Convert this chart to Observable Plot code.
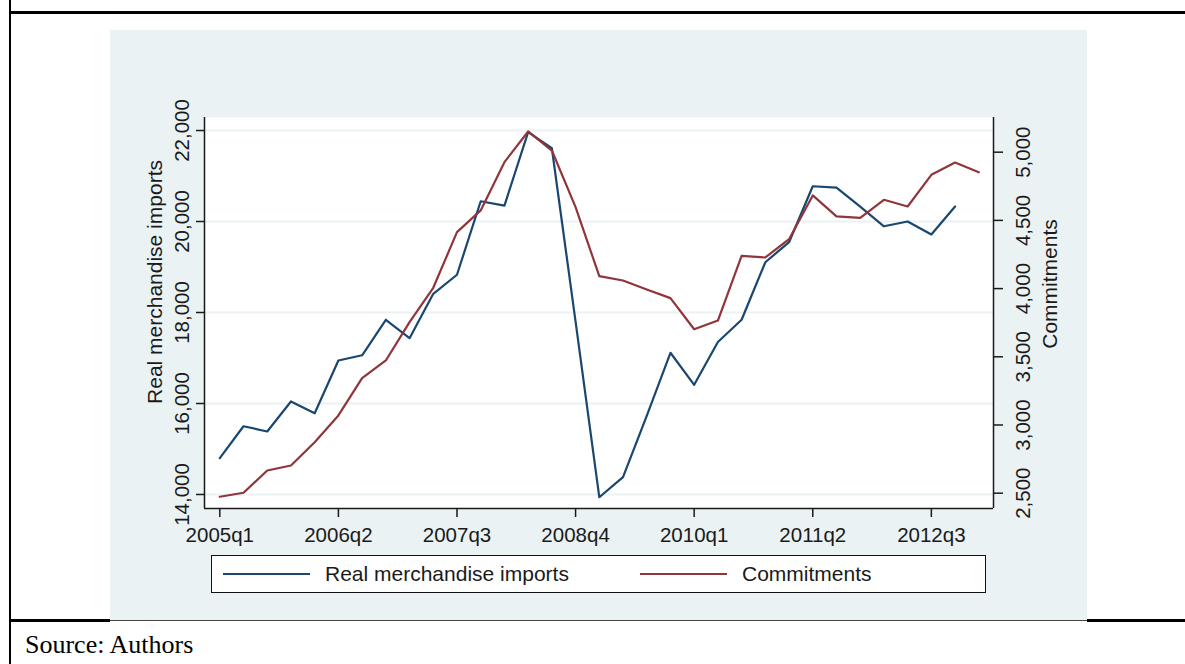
<!DOCTYPE html>
<html>
<head>
<meta charset="utf-8">
<script src="https://cdn.jsdelivr.net/npm/d3@7"></script>
<script src="https://cdn.jsdelivr.net/npm/@observablehq/plot@0.6"></script>
<style>
  body { margin: 0; background: #fff; }
  #page { position: relative; width: 1185px; height: 664px; overflow: hidden; background: #fff;
          font-family: "Liberation Sans", Arial, sans-serif; color: #1a1a1a; }
  .ln { position: absolute; background: #000; }
  #panel { position: absolute; left: 110px; top: 30px; width: 977px; height: 591px; background: #eaf2f3; }
  #chart { position: absolute; left: 110px; top: 30px; }
  #legend { position: absolute; left: 211px; top: 555px; width: 773px; height: 36px;
            border: 1.5px solid #111; background: #fff; }
  .sw { position: absolute; top: 17px; height: 2px; width: 87px; }
  .lt { position: absolute; top: 6px; font-size: 21px; line-height: 24px; white-space: nowrap; color: #1a1a1a; }
  #source { position: absolute; left: 25px; top: 630px; font-family: "Liberation Serif", "Times New Roman", serif;
            font-size: 26px; line-height: 29px; color: #000; }
</style>
</head>
<body>
<div id="page">
  <div id="panel"></div>
  <div id="chart"></div>
  <div id="legend"></div>
  <div class="ln" style="left:10px; top:11px; width:1175px; height:3px;"></div>
  <div class="ln" style="left:9px; top:0px; width:2px; height:664px;"></div>
  <div class="ln" style="left:10px; top:619px; width:100px; height:3px;"></div>
  <div class="ln" style="left:110px; top:620px; width:977px; height:1px; background:#444;"></div>
  <div class="ln" style="left:1087px; top:619px; width:98px; height:3px;"></div>
  <div id="source">Source: Authors</div>
</div>
<script>
// ---- data ----
const quarters = [
  "2005q1","2005q2","2005q3","2005q4","2006q1","2006q2","2006q3","2006q4",
  "2007q1","2007q2","2007q3","2007q4","2008q1","2008q2","2008q3","2008q4",
  "2009q1","2009q2","2009q3","2009q4","2010q1","2010q2","2010q3","2010q4",
  "2011q1","2011q2","2011q3","2011q4","2012q1","2012q2","2012q3","2012q4","2013q1"
];
const imports = [
  14800, 15500, 15385, 16045, 15785, 16945, 17060, 17840, 17435, 18410, 18830,
  20445, 20350, 21965, 21610, 17800, 13940, 14380, 15730, 17115, 16410, 17350,
  17840, 19105, 19545, 20775, 20745, 20325, 19895, 20000, 19715, 20330
];
const commitments = [
  2474, 2503, 2666, 2703, 2874, 3070, 3343, 3473, 3754, 4006, 4414,
  4573, 4927, 5152, 5012, 4597, 4091, 4059, 3993, 3930, 3702, 3766,
  4240, 4228, 4362, 4683, 4529, 4519, 4651, 4602, 4834, 4924, 4853
];
const xTickLabels = ["2005q1","2006q2","2007q3","2008q4","2010q1","2011q2","2012q3"];
const leftTicks = [14000, 16000, 18000, 20000, 22000];
const rightTicks = [2500, 3000, 3500, 4000, 4500, 5000];
const seriesNames = ["Real merchandise imports", "Commitments"];
const seriesColors = ["#1a476f", "#90353b"];
const leftTitle = "Real merchandise imports";
const rightTitle = "Commitments";

// ---- scales ----
const xDomain = [-0.645, 32.62];
const yDomain = [13692, 22286];
// right axis (Commitments) mapped onto the left scale
const toLeft = r => 14028.6 + 2.998 * (r - 2500);
const toRight = l => (l - 14028.6) / 2.998 + 2500;

const impData = imports.map((v, i) => ({t: i, v}));
const comData = commitments.map((v, i) => ({t: i, v}));
const xTickIdx = xTickLabels.map(l => quarters.indexOf(l));
const fmt = d3.format(",");

const chart = Plot.plot({
  width: 977,
  height: 591,
  marginLeft: 94,
  marginRight: 94,
  marginTop: 87,
  marginBottom: 113,
  style: {background: "transparent", fontFamily: "'Liberation Sans', Arial, sans-serif",
          fontSize: "20.5px", color: "#1a1a1a", overflow: "visible"},
  x: {type: "linear", domain: xDomain, label: null},
  y: {domain: yDomain, label: null},
  marks: [
    Plot.frame({fill: "white", stroke: "none"}),
    Plot.gridY(leftTicks, {stroke: "#eaf2f3", strokeOpacity: 1, strokeWidth: 2}),
    Plot.line(impData, {x: "t", y: "v", stroke: seriesColors[0], strokeWidth: 2.2}),
    Plot.line(comData, {x: "t", y: d => toLeft(d.v), stroke: seriesColors[1], strokeWidth: 2.2}),
    Plot.ruleX([xDomain[0], xDomain[1]], {stroke: "#1a1a1a", strokeWidth: 1.5}),
    Plot.ruleY([yDomain[0]], {stroke: "#1a1a1a", strokeWidth: 1.5}),
    Plot.axisX(xTickIdx, {tickSize: 9, tickPadding: 10, tickFormat: i => quarters[i],
                          fontSize: 20.5, strokeWidth: 1.5, label: null}),
    Plot.axisY(leftTicks, {anchor: "left", tickSize: 8, tickPadding: 8, tickRotate: -90,
                           tickFormat: fmt, fontSize: 20.5, strokeWidth: 1.5, label: null}),
    Plot.axisY(rightTicks.map(toLeft), {anchor: "right", tickSize: 9, tickPadding: 13, tickRotate: -90,
                           lineAnchor: "top", tickFormat: d => fmt(Math.round(toRight(d))),
                           fontSize: 20.5, strokeWidth: 1.5, label: null}),
    Plot.text([leftTitle], {frameAnchor: "left", dx: -49, dy: -31, rotate: -90, textAnchor: "middle",
                            lineAnchor: "middle", fontSize: 21, fill: "#1a1a1a"}),
    Plot.text([rightTitle], {frameAnchor: "right", dx: 57, dy: -29, rotate: -90, textAnchor: "middle",
                             lineAnchor: "middle", fontSize: 21, fill: "#1a1a1a"})
  ]
});
document.getElementById("chart").appendChild(chart);

// ---- legend ----
const legend = document.getElementById("legend");
const swLeft = [11, 428];
seriesNames.forEach((name, i) => {
  const sw = document.createElement("div");
  sw.className = "sw";
  sw.style.left = swLeft[i] + "px";
  sw.style.background = seriesColors[i];
  legend.appendChild(sw);
  const tx = document.createElement("div");
  tx.className = "lt";
  tx.style.left = (swLeft[i] + 102) + "px";
  tx.textContent = name;
  legend.appendChild(tx);
});
</script>
</body>
</html>
